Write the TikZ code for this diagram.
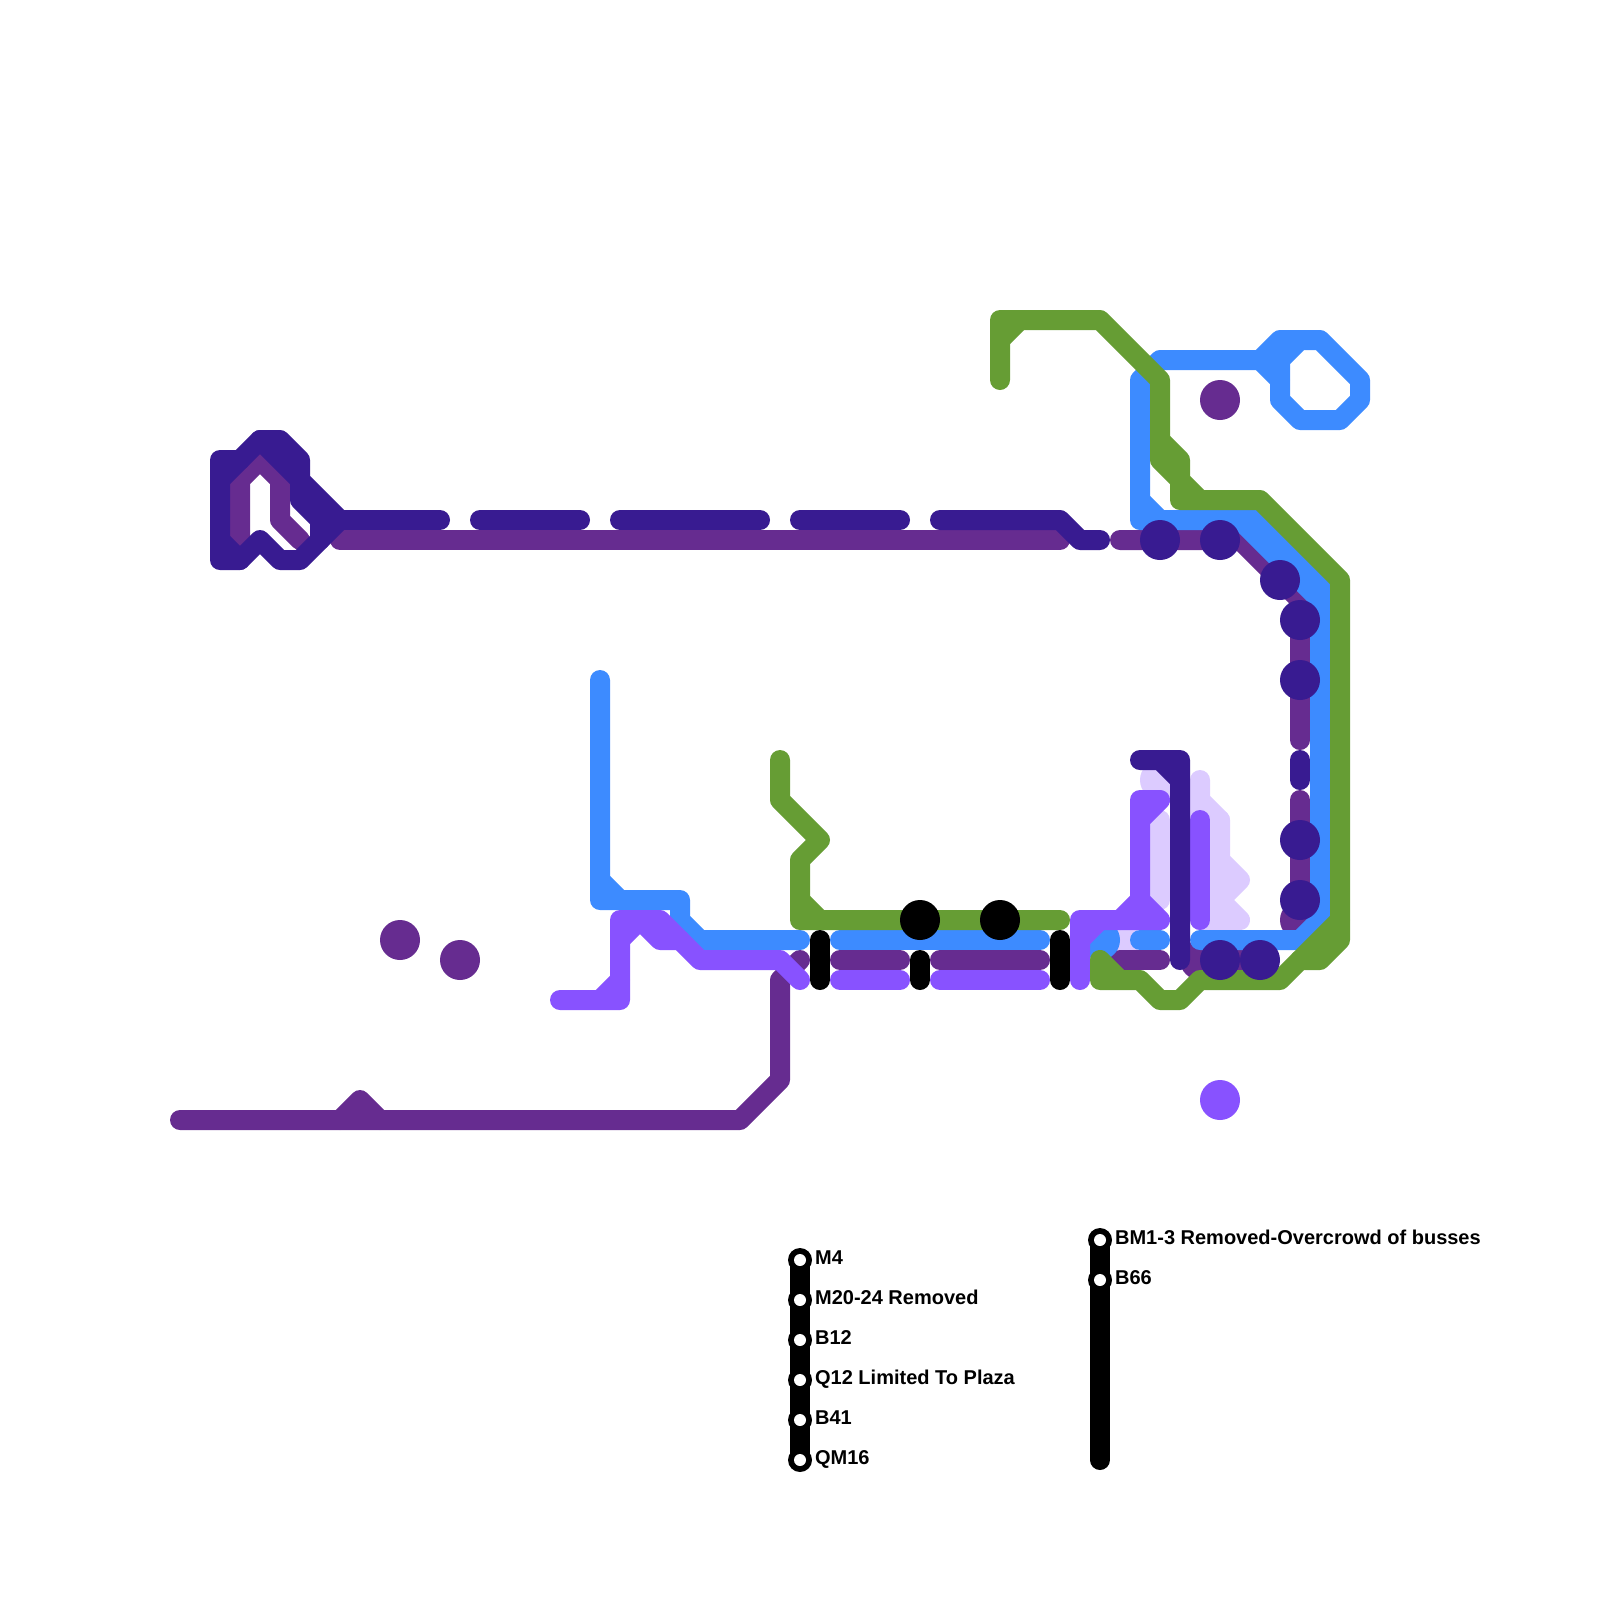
\documentclass[tikz,border=0pt]{standalone}
\usepackage{fontspec}
\setmainfont{Liberation Sans}
\usepackage{xcolor}
\definecolor{indigo}{HTML}{381B91}
\definecolor{plum}{HTML}{662C90}
\definecolor{azure}{HTML}{3D8BFF}
\definecolor{violet}{HTML}{8852FF}
\definecolor{lilac}{HTML}{DCCBFF}
\definecolor{moss}{HTML}{669D34}

\tikzset{
  route/.style={line width=1cm, line cap=round, line join=round},
  stop/.style={font=\fontsize{28.45}{30}\selectfont\bfseries, anchor=base west, inner sep=0pt},
}

\begin{document}
\begin{tikzpicture}[x=1cm, y=-1cm]
    \useasboundingbox (0,0) rectangle (80,80);
    % pale line and its dots
    \begin{scope}[route, lilac]
      \draw (60,39) -- (60,40) -- (61,41) -- (61,43) -- (62,44) -- (61,45) -- (62,46) -- (60,46) -- (60,40);
      \draw (61,41) -- (61,46) (58,41) -- (58,45);
      \fill (58,39) circle (1) (56,47) circle (1);
    \end{scope}
    % plum line
    \begin{scope}[route, plum]
      \draw (17,27) -- (53,27);
      \draw (12,27) -- (12,24) -- (13,23) -- (14,24) -- (14,26) -- (15,27);
      \draw (56,27) -- (62,27) -- (65,30) -- (65,37);
      \draw (65,40) -- (65,45);
      \draw (40,48) -- (39,49) -- (39,54) -- (37,56) -- (9,56);
      \draw (17,56) -- (18,55) -- (19,56);
      \draw (42,48) -- (45,48) (47,48) -- (52,48) (56,48) -- (58,48) (60,48) -- (63,48);
      \fill (65,46) circle (1) (60,48) circle (1) (20,47) circle (1) (23,48) circle (1) (61,20) circle (1);
    \end{scope}
    % blue line
    \begin{scope}[route, azure]
      \draw (30,34) -- (30,45) -- (34,45) -- (34,46) -- (35,47) -- (40,47);
      \draw (30,44) -- (31,45);
      \draw (42,47) -- (52,47) (57,47) -- (58,47);
      \draw (60,47) -- (65,47) -- (66,46) -- (66,30) -- (62,26) -- (57,26) -- (57,19) -- (58,18) -- (63,18) -- (64,17) -- (66,17) -- (68,19) -- (68,20) -- (67,21) -- (65,21) -- (64,20) -- (64,18) -- (65,17);
      \draw (57,25) -- (58,26) (63,18) -- (64,19);
      \draw (62,26) -- (63,26) -- (66,29) -- (66,30);
      \fill (55,47) circle (1);
    \end{scope}
    % violet line
    \begin{scope}[route, violet]
      \draw (28,50) -- (31,50) -- (31,46) -- (33,46) -- (35,48) -- (39,48) -- (40,49);
      \draw (30,50) -- (31,49) (31,47) -- (32,46) -- (33,47) -- (34,47);
      \draw (42,49) -- (45,49) (47,49) -- (52,49);
      \draw (54,49) -- (54,46) -- (58,46) -- (57,45) -- (57,40) -- (58,40) -- (57,41);
      \draw (54,47) -- (55,46) (56,46) -- (57,45);
      \draw (60,41) -- (60,46);
      \fill (61,55) circle (1);
    \end{scope}
    % green line
    \begin{scope}[route, moss]
      \draw (50,19) -- (50,16) -- (55,16) -- (58,19) -- (58,23) -- (59,24) -- (59,25) -- (63,25) -- (67,29) -- (67,47) -- (66,48) -- (65,48) -- (64,49) -- (60,49) -- (59,50) -- (58,50) -- (57,49) -- (55,49) -- (55,48) -- (56,49);
      \draw (50,17) -- (51,16) (58,22) -- (59,23) -- (59,24) -- (60,25);
      \draw (65,48) -- (67,46);
      \draw (39,38) -- (39,40) -- (41,42) -- (40,43) -- (40,46) -- (53,46);
      \draw (40,45) -- (41,46);
    \end{scope}
    % indigo line
    \begin{scope}[route, indigo]
      \draw (17,26) -- (15,24) -- (15,23) -- (14,22) -- (13,22) -- (12,23) -- (11,23) -- (11,28) -- (12,28) -- (13,27) -- (14,28) -- (15,28) -- (17,26);
      \draw (13,22) -- (15,24) -- (15,25) -- (16,26) -- (16,27);
      \draw (11,24) -- (12,23) (11,27) -- (12,28);
      \draw (17,26) -- (22,26) (24,26) -- (29,26) (31,26) -- (38,26) (40,26) -- (45,26);
      \draw (47,26) -- (53,26) -- (54,27) -- (55,27);
      \draw (65,38) -- (65,39);
      \draw (57,38) -- (59,38) -- (59,48) (58,38) -- (59,39);
      \foreach \x/\y in {58/27, 61/27, 64/29, 65/31, 65/34, 65/42, 65/45, 61/48, 63/48}
        \fill (\x,\y) circle (1);
    \end{scope}
    % black ties
    \begin{scope}[route, black]
      \draw (41,47) -- (41,49) (46,48) -- (46,49) (53,47) -- (53,49);
      \fill (46,46) circle (1) (50,46) circle (1);
    \end{scope}
    % key
    \draw[route, black] (40,63) -- (40,73);
    \draw[route, black] (55,62) -- (55,73);
    \foreach \y/\name in {63/M4, 65/M20-24 Removed, 67/B12, 69/Q12 Limited To Plaza, 71/B41, 73/QM16} {
      \fill[black] (40,\y) circle (0.6);
      \fill[white] (40,\y) circle (0.3);
      \node[stop] (key\y) at (40.75,\y+0.22) {\name};
    }
    \foreach \y/\name in {62/BM1-3 Removed-Overcrowd of busses, 64/B66} {
      \fill[black] (55,\y) circle (0.6);
      \fill[white] (55,\y) circle (0.3);
      \node[stop] (note\y) at (55.75,\y+0.22) {\name};
    }
  \end{tikzpicture}
\end{document}
